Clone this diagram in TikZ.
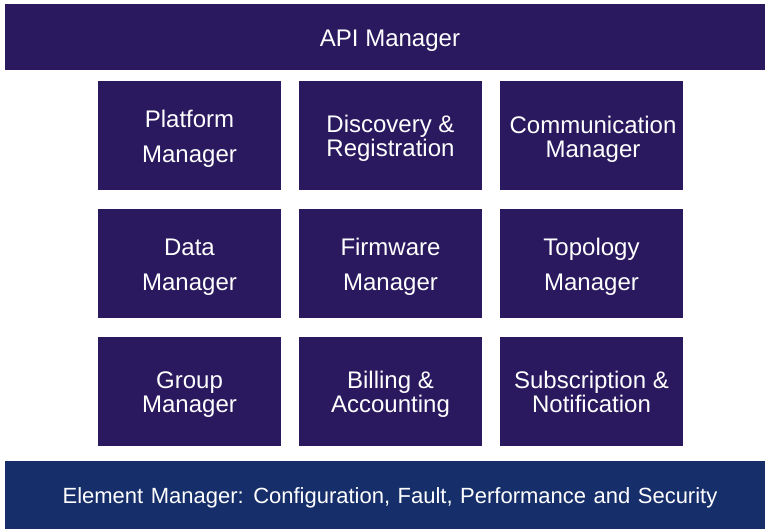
\documentclass[tikz,border=0pt]{standalone}
\usepackage{fontspec}
\setmainfont{Liberation Sans}
\definecolor{boxpurple}{RGB}{42,25,95}
\definecolor{barblue}{RGB}{22,46,106}
\newcommand{\widespace}{\spaceskip=7.5pt plus 1pt\relax}
\begin{document}
\begin{tikzpicture}[x=1pt,y=-1pt,
  blk/.style={fill=boxpurple,draw=none,text=white,align=center,font=\fontsize{24}{35}\selectfont},
  tight/.style={font=\fontsize{24}{24}\selectfont}]
\useasboundingbox (0,0) rectangle (765,529);
% top bar
\fill[boxpurple] (5,4) rectangle (765,70);
\node[text=white,font=\fontsize{24}{28}\selectfont] (api) at (390,40.5) {API Manager};
% bottom bar
\fill[barblue] (5,461) rectangle (765,529);
\node[text=white,font=\fontsize{22}{26}\selectfont] (elem) at (390,498) {\widespace Element Manager: Configuration, Fault, Performance and Security};
% grid
\foreach \c/\xa/\xb in {1/98/281,2/299/482,3/500/683}{
  \foreach \r/\ya/\yb in {1/81/190,2/209/318,3/337/446}{
    \fill[boxpurple] (\xa,\ya) rectangle (\xb,\yb);
  }
}
\node[blk] (pm) at (189.5,139) {Platform\\Manager};
\node[blk,tight] (dr) at (390.5,138) {Discovery \&\\Registration};
\node[blk,tight] (cm) at (593,139) {Communication\\Manager};
\node[blk] (dm) at (189.5,267) {Data\\Manager};
\node[blk] (fm) at (390.5,267) {Firmware\\Manager};
\node[blk] (tm) at (591.5,267) {Topology\\Manager};
\node[blk,tight] (gm) at (189.5,395) {Group\\Manager};
\node[blk,tight] (ba) at (390.5,394) {Billing \&\\Accounting};
\node[blk,tight] (sn) at (591.5,392) {Subscription \&\\Notification};
\end{tikzpicture}
\end{document}
